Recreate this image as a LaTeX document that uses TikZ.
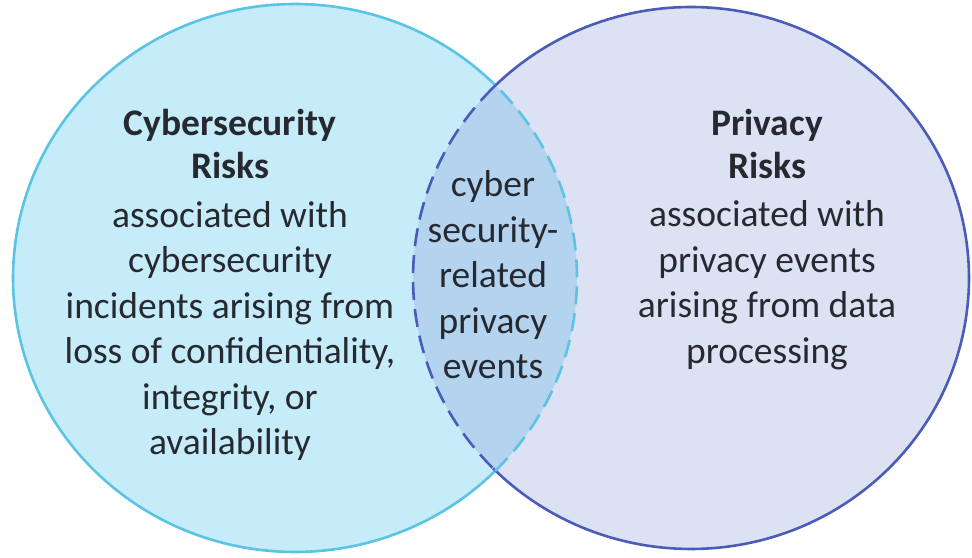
\documentclass[tikz,border=0pt]{standalone}
\usepackage{fontspec}
\setmainfont{Carlito}
\definecolor{lfill}{HTML}{C6ECFA}
\definecolor{lline}{HTML}{5BC3E3}
\definecolor{rfill}{HTML}{DDE1F4}
\definecolor{rline}{HTML}{4B5CB8}
\definecolor{mfill}{HTML}{B3D3EF}
\definecolor{txt}{HTML}{262A30}
\tikzset{
  lbl/.style={align=center, text=txt, font=\fontsize{37.5}{45.5}\selectfont, inner sep=0pt},
  ttl/.style={lbl, font=\bfseries\fontsize{37.5}{43}\selectfont},
  solidl/.style={draw=lline, line width=2.6pt},
  solidr/.style={draw=rline, line width=2.6pt},
  dashl/.style={draw=lline, line width=2.6pt, dash pattern=on 18pt off 9pt},
  dashr/.style={draw=rline, line width=2.6pt, dash pattern=on 18pt off 9pt}
}
\begin{document}
\begin{tikzpicture}[x=1pt,y=1pt]
\useasboundingbox (0,0) rectangle (972,557);
\fill[white] (0,0) rectangle (972,557);
\coordinate (Lc) at (295,279);
\coordinate (Rc) at (691,279);
% fills
\fill[lfill] (Lc) ellipse[x radius=282, y radius=274];
\fill[rfill] (Rc) ellipse[x radius=278, y radius=271];
\begin{scope}
  \clip (Lc) ellipse[x radius=282, y radius=274];
  \fill[mfill] (Rc) ellipse[x radius=278, y radius=271];
\end{scope}
% outlines
\draw[solidl] ([shift={(Lc)}]44.8:282 and 274) arc[start angle=44.8, end angle=315.2, x radius=282, y radius=274];
\draw[solidr] ([shift={(Rc)}]-135.4:278 and 271) arc[start angle=-135.4, end angle=135.4, x radius=278, y radius=271];
\draw[dashl] ([shift={(Lc)}]-44.8:282 and 274) arc[start angle=-44.8, end angle=44.8, x radius=282, y radius=274];
\draw[dashr] ([shift={(Rc)}]135.4:278 and 271) arc[start angle=135.4, end angle=224.6, x radius=278, y radius=271];
% texts
\node[ttl] (lt) at (230,413) {Cybersecurity\\Risks};
\node[lbl] (lb) at (230,226) {associated with\\cybersecurity\\incidents arising from\\loss of confidentiality,\\integrity, or\\availability};
\node[lbl] (mb) at (493,282) {cyber\\security-\\related\\privacy\\events};
\node[ttl] (rt) at (767,413) {Privacy\\Risks};
\node[lbl] (rb) at (767,272) {associated with\\privacy events\\arising from data\\processing};
\end{tikzpicture}
\end{document}
